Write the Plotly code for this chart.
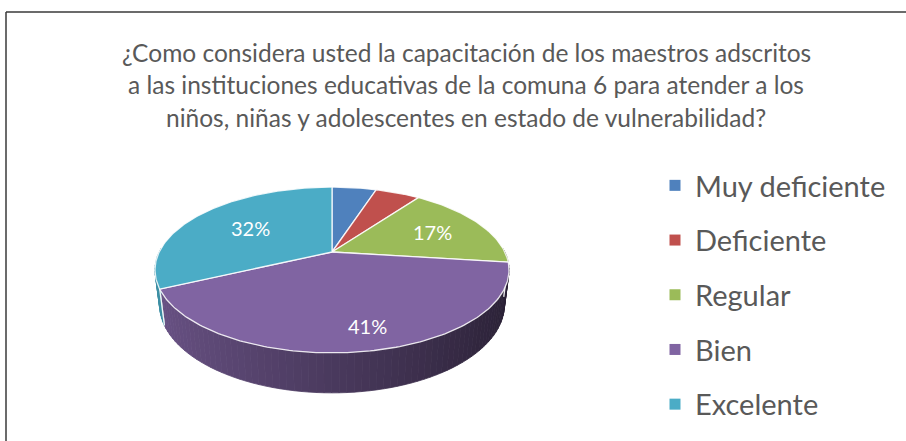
import numpy as np
import plotly.graph_objects as go

# ---------------- data ----------------
categories = ["Muy deficiente", "Deficiente", "Regular", "Bien", "Excelente"]
values = [5, 5, 17, 41, 32]
show_label = [False, False, True, True, True]
colors = ["#4F81BD", "#C0504D", "#9BBB59", "#8064A2", "#4BACC6"]
title_lines = [
    "¿Como considera usted la capacitación de los maestros adscritos",
    "a las instituciones educativas de la comuna 6 para atender a los",
    "niños, niñas y adolescentes en estado de vulnerabilidad?",
]

# ---------------- style / geometry ----------------
W, H = 906, 441
FONT = "Lato"
ELEV = np.radians(27.2)
DIST = 4.1
SCALE = 708.5
CX, CY = 332, 252
THICK = 0.227
label_r = [0.6, 0.6, 0.67, 0.8, 0.6]
label_dt = [0, 0, 0, -0.06, 0]   # small angular nudge (radians) for label placement


def proj(X, Y, Z):
    X, Y, Z = np.asarray(X, float), np.asarray(Y, float), np.asarray(Z, float)
    depth = DIST + Y * np.cos(ELEV) - Z * np.sin(ELEV)
    sx = X * SCALE / depth
    sy = (Y * np.sin(ELEV) + Z * np.cos(ELEV)) * SCALE / depth
    return CX + sx, CY - sy


def hex2rgb(h):
    h = h.lstrip("#")
    return tuple(int(h[i:i + 2], 16) for i in (0, 2, 4))


def shade(h, f):
    r, g, b = hex2rgb(h)
    return "rgb(%d,%d,%d)" % (min(255, r * f), min(255, g * f), min(255, b * f))


total = float(sum(values))
cum = np.concatenate([[0], np.cumsum(values)]) / total
theta0 = 2 * np.pi * cum[:-1]
theta1 = 2 * np.pi * cum[1:]

fig = go.Figure()

# ---- side walls (front part only) ----
for i in range(len(values)):
    a0, a1 = theta0[i], theta1[i]
    lo = max(a0, np.pi / 2 - 0.05)
    hi = min(a1, 3 * np.pi / 2 + 0.05)
    if hi <= lo:
        continue
    nseg = max(2, int(np.degrees(hi - lo) / 2))
    edges = np.linspace(lo, hi, nseg + 1)
    for k in range(nseg):
        t = np.linspace(edges[k], edges[k + 1], 4)
        X, Y = np.sin(t), np.cos(t)
        xt, yt = proj(X, Y, 0 * t)
        xb, yb = proj(X, Y, 0 * t - THICK)
        xs = np.concatenate([xt, xb[::-1], xt[:1]])
        ys = np.concatenate([yt, yb[::-1], yt[:1]])
        xm = np.sin(t.mean())
        col = shade(colors[i], 0.58 - 0.26 * xm)
        fig.add_trace(go.Scatter(x=xs, y=ys, mode="lines", fill="toself",
                                 fillcolor=col, line=dict(color=col, width=0.8),
                                 hoverinfo="skip", showlegend=False))
    # white seam at slice boundaries on the wall
    for a in (a0, a1):
        if np.pi / 2 < a < 3 * np.pi / 2:
            xs, ys = proj([np.sin(a)] * 2, [np.cos(a)] * 2, [0, -THICK])
            fig.add_trace(go.Scatter(x=xs, y=ys, mode="lines",
                                     line=dict(color="rgba(255,255,255,0.9)", width=1.3),
                                     hoverinfo="skip", showlegend=False))

# ---- top faces ----
for i in range(len(values)):
    n = max(8, int(np.degrees(theta1[i] - theta0[i])))
    t = np.linspace(theta0[i], theta1[i], n)
    X = np.concatenate([[0], np.sin(t), [0]])
    Y = np.concatenate([[0], np.cos(t), [0]])
    xs, ys = proj(X, Y, 0 * X)
    fig.add_trace(go.Scatter(x=xs, y=ys, mode="lines", fill="toself",
                             fillcolor=colors[i],
                             line=dict(color="rgba(255,255,255,0.85)", width=1.3),
                             hoverinfo="skip", showlegend=False))

# ---- data labels ----
for i in range(len(values)):
    if not show_label[i]:
        continue
    tm = 0.5 * (theta0[i] + theta1[i]) + label_dt[i]
    r = label_r[i]
    lx, ly = proj(r * np.sin(tm), r * np.cos(tm), 0)
    fig.add_annotation(x=float(lx), y=float(ly), text="%d%%" % round(100 * values[i] / total),
                       showarrow=False, xanchor="center", yanchor="middle",
                       font=dict(family=FONT, size=20, color="white"))

# ---- legend entries ----
for i, c in enumerate(categories):
    fig.add_trace(go.Scatter(x=[None], y=[None], mode="markers", name=c,
                             legendgroup=c,
                             marker=dict(symbol="square", size=11, color=colors[i])))

# ---- title ----
for j, line in enumerate(title_lines):
    fig.add_annotation(x=466, y=52 + 32.5 * j, text=line, showarrow=False,
                       xanchor="center", yanchor="middle",
                       font=dict(family=FONT, size=24.5, color="#595959"))

# ---- chart border ----
fig.add_shape(type="line", xref="paper", yref="paper", x0=6 / W, x1=1.01, y0=1 - 12 / H, y1=1 - 12 / H,
              line=dict(color="#3a3a3a", width=1.5))
fig.add_shape(type="line", xref="paper", yref="paper", x0=6 / W, x1=6 / W, y0=-0.01, y1=1 - 12 / H,
              line=dict(color="#3a3a3a", width=1.5))

fig.update_layout(
    width=W, height=H,
    margin=dict(l=0, r=0, t=0, b=0, autoexpand=False),
    paper_bgcolor="white", plot_bgcolor="white",
    xaxis=dict(range=[0, W], visible=False, fixedrange=True),
    yaxis=dict(range=[H, 0], visible=False, fixedrange=True),
    showlegend=True,
    legend=dict(x=655 / W, y=1 - 160 / H, xanchor="left", yanchor="top",
                font=dict(family=FONT, size=29, color="#595959"),
                tracegroupgap=14, bgcolor="rgba(0,0,0,0)"),
)

fig.write_html("out.html", post_script="document.body.style.margin='0';",
               config={"displayModeBar": False})
